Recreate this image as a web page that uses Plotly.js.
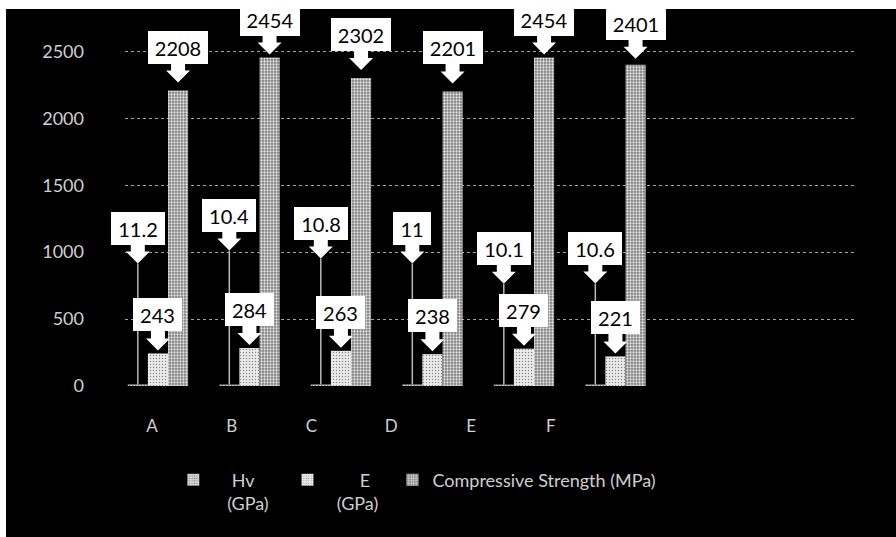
<!DOCTYPE html>
<html>
<head>
<meta charset="utf-8">
<script src="https://cdn.plot.ly/plotly-3.0.1.min.js"></script>
<style>
  html, body { margin: 0; padding: 0; background: #ffffff; width: 896px; height: 537px; overflow: hidden; }
  #chart { position: absolute; left: 6px; top: 9px; width: 890px; height: 528px; }
</style>
</head>
<body>
<div id="chart"></div>
<script>
// ---- data ----
const categories = ['A', 'B', 'C', 'D', 'E', 'F'];
const hvValues = [11.2, 10.4, 10.8, 11, 10.1, 10.6];            // Hv (GPa)
const eValues = [243, 284, 263, 238, 279, 221];                 // E (GPa)
const csValues = [2208, 2454, 2302, 2201, 2454, 2401];          // Compressive Strength (MPa)
const seriesNames = ['Hv (GPa)', 'E (GPa)', 'Compressive Strength (MPa)'];
const yTickValues = [0, 500, 1000, 1500, 2000, 2500];

// ---- layout / style settings ----
const hvCalloutLift = [121, 134, 126, 121, 101, 101];  // px the Hv callouts sit above their bars
const csCalloutLift = [8, 3, 8, 8, 3, 6];
const barWidth = 0.22;
const seriesOffset = [-0.33, -0.11, 0.11];
const idx = categories.map((c, i) => i);
const labelFont = 'Lato, "Open Sans", sans-serif';
const axisColor = '#cfcfcf';
const nb = n => '\u00a0'.repeat(n);

function wrapName(name, lead1, lead2, trail) {
  const parts = name.split(' ');
  return nb(lead1) + parts[0] + '<br>' + nb(lead2) + parts.slice(1).join(' ') + nb(trail);
}

const traces = [
  {
    type: 'bar', name: wrapName(seriesNames[0], 4, 3, 3),
    x: idx, y: hvValues, width: barWidth, offset: seriesOffset[0],
    marker: { color: '#d9d9d9', line: { width: 0 },
      pattern: { shape: '.', fgcolor: '#7a7a7a', bgcolor: '#d9d9d9', size: 3, solidity: 0.25 } },
    hoverinfo: 'skip'
  },
  {
    type: 'bar', name: wrapName(seriesNames[1], 7, 2, 2),
    x: idx, y: eValues, width: barWidth, offset: seriesOffset[1],
    marker: { color: '#e9e9e9', line: { width: 0 },
      pattern: { shape: '.', fgcolor: '#8a8a8a', bgcolor: '#ececec', size: 3, solidity: 0.2 } },
    hoverinfo: 'skip'
  },
  {
    type: 'bar', name: seriesNames[2],
    x: idx, y: csValues, width: barWidth, offset: seriesOffset[2],
    marker: { color: '#9a9a9a', line: { width: 0 },
      pattern: { shape: '.', fgcolor: '#e6e6e6', bgcolor: '#7d7d7d', size: 3, solidity: 0.45 } },
    hoverinfo: 'skip'
  }
];

// callouts: block arrow + white label box, anchored at each bar top
const shapes = [];
const annotations = [];
const arrowLen = 20, headH = 12, headHalf = 12, shaftHalf = 7;
function boxWidth(txt) {
  let w = 16;
  for (const ch of txt) w += (ch === '.') ? 5 : 11;
  return w;
}
function addCallout(xv, yv, lift) {
  const txt = String(yv);
  const g = lift;
  if (lift > 12) {
    shapes.push({
      type: 'line', xref: 'x', yref: 'y', xsizemode: 'pixel', ysizemode: 'pixel',
      xanchor: xv, yanchor: yv, x0: 0, x1: 0, y0: 0, y1: g,
      line: { color: '#b8b8b8', width: 1.5 }
    });
  }
  const p = 'M0,' + g +
    ' L' + headHalf + ',' + (g + headH) +
    ' L' + shaftHalf + ',' + (g + headH) +
    ' L' + shaftHalf + ',' + (g + arrowLen) +
    ' L' + (-shaftHalf) + ',' + (g + arrowLen) +
    ' L' + (-shaftHalf) + ',' + (g + headH) +
    ' L' + (-headHalf) + ',' + (g + headH) + ' Z';
  shapes.push({
    type: 'path', xref: 'x', yref: 'y', xsizemode: 'pixel', ysizemode: 'pixel',
    xanchor: xv, yanchor: yv, path: p,
    fillcolor: '#ffffff', line: { width: 0 }
  });
  annotations.push({
    x: xv, y: yv, xref: 'x', yref: 'y', text: txt, showarrow: false,
    xanchor: 'center', yanchor: 'bottom', yshift: g + arrowLen - 1,
    width: boxWidth(txt), height: 33, borderpad: 0, borderwidth: 0,
    bgcolor: '#ffffff', align: 'center', valign: 'middle',
    font: { family: labelFont, size: 20, color: '#000000' }
  });
}
idx.forEach(i => {
  addCallout(i + seriesOffset[0] + barWidth / 2, hvValues[i], hvCalloutLift[i]);
  addCallout(i + seriesOffset[1] + barWidth / 2, eValues[i], 3);
  addCallout(i + seriesOffset[2] + barWidth / 2, csValues[i], csCalloutLift[i]);
});

const layout = {
  width: 890, height: 528,
  margin: { l: 119, r: 39, t: 9, b: 151 },
  paper_bgcolor: '#000000', plot_bgcolor: '#000000',
  barmode: 'overlay',
  showlegend: true,
  legend: {
    orientation: 'h', x: 0.066, xanchor: 'left', y: -0.205, yanchor: 'top',
    bgcolor: 'rgba(0,0,0,0)', font: { family: labelFont, size: 18, color: axisColor },
    valign: 'top', traceorder: 'normal', tracegroupgap: 0
  },
  xaxis: {
    type: 'linear', range: [-0.36, 7.64],
    tickmode: 'array',
    tickvals: idx.map(i => i * 0.872 - 0.066),
    ticktext: categories,
    showgrid: false, zeroline: false, showline: false, ticks: '',
    ticklabelstandoff: 28,
    tickfont: { family: labelFont, size: 17, color: axisColor }
  },
  yaxis: {
    range: [0, 2750], tickmode: 'array', tickvals: yTickValues,
    showgrid: true, gridcolor: '#a0a0a0', gridwidth: 1, griddash: 'dot',
    zeroline: false, showline: false, ticks: '',
    ticklabelstandoff: 40,
    tickfont: { family: labelFont, size: 18, color: axisColor }
  },
  shapes: shapes,
  annotations: annotations
};

Plotly.newPlot('chart', traces, layout, { displayModeBar: false, staticPlot: true });
</script>
</body>
</html>
